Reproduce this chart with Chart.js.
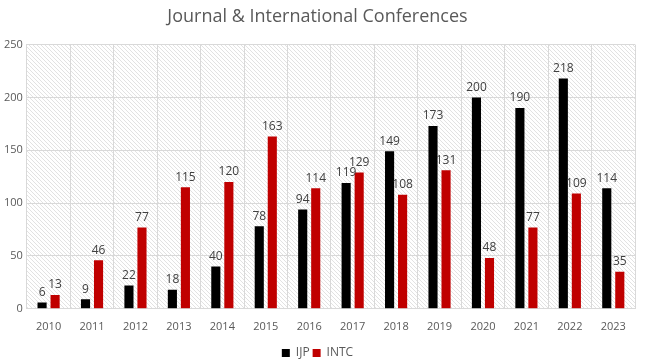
<!DOCTYPE html>
<html>
<head>
<meta charset="utf-8">
<script src="https://cdn.jsdelivr.net/npm/chart.js@4/dist/chart.umd.min.js"></script>
<style>
  html, body { margin: 0; padding: 0; background: #fff; }
</style>
</head>
<body>
<canvas id="grafico" width="646" height="362"></canvas>
<script>
const anos = ['2010', '2011', '2012', '2013', '2014', '2015', '2016', '2017', '2018', '2019', '2020', '2021', '2022', '2023'];
const ijp = [6, 9, 22, 18, 40, 78, 94, 119, 149, 173, 200, 190, 218, 114];
const intc = [13, 46, 77, 115, 120, 163, 114, 129, 108, 131, 48, 77, 109, 35];
const yTicks = [0, 50, 100, 150, 200, 250];

const FONTE = "'Open Sans', 'Liberation Sans', sans-serif";

// hachura diagonal do fundo
function criarHachura(ctx) {
    const c = document.createElement('canvas');
    c.width = 4; c.height = 4;
    const p = c.getContext('2d');
    p.strokeStyle = '#e2e2e2';
    p.lineWidth = 1;
    p.beginPath();
    p.moveTo(0, 0); p.lineTo(4, 4);
    p.moveTo(-1, 3); p.lineTo(1, 5);
    p.moveTo(3, -1); p.lineTo(5, 1);
    p.stroke();
    return ctx.createPattern(c, 'repeat');
}

const fundoHachurado = {
    id: 'fundoHachurado',
    beforeDraw(chart) {
        const { ctx, chartArea: a } = chart;
        ctx.save();
        ctx.fillStyle = criarHachura(ctx);
        ctx.fillRect(a.left, a.top, a.right - a.left, a.bottom - a.top);
        ctx.restore();
    }
};

const rotulos = {
    id: 'rotulos',
    afterDatasetsDraw(chart) {
        const ctx = chart.ctx;
        ctx.save();
        ctx.font = '12px ' + FONTE;
        ctx.fillStyle = '#404040';
        ctx.textAlign = 'center';
        ctx.textBaseline = 'bottom';
        chart.data.datasets.forEach((ds, i) => {
            chart.getDatasetMeta(i).data.forEach((bar, j) => {
                ctx.fillText(ds.data[j], bar.x, bar.y - 4);
            });
        });
        ctx.restore();
    }
};

new Chart(document.getElementById('grafico').getContext('2d'), {
    type: 'bar',
    data: {
        labels: anos,
        datasets: [{
            label: 'IJP',
            data: ijp,
            backgroundColor: '#000000',
            categoryPercentage: 0.6,
            barPercentage: 0.7
        }, {
            label: 'INTC',
            data: intc,
            backgroundColor: '#c00000',
            categoryPercentage: 0.6,
            barPercentage: 0.7
        }]
    },
    options: {
        responsive: false,
        animation: false,
        layout: { padding: { left: 0, right: 11, top: 6, bottom: -7 } },
        plugins: {
            title: {
                display: true,
                text: 'Journal & International Conferences',
                color: '#595959',
                font: { family: FONTE, size: 18, weight: 'normal' },
                padding: { top: 0, bottom: 17 }
            },
            legend: {
                position: 'bottom',
                labels: {
                    color: '#595959',
                    font: { family: FONTE, size: 12 },
                    boxWidth: 8,
                    boxHeight: 8,
                    padding: 3
                }
            },
            tooltip: { enabled: false }
        },
        scales: {
            x: {
                grid: { color: '#d9d9d9', offset: true, drawTicks: false },
                border: { color: '#d9d9d9' },
                ticks: { color: '#595959', font: { family: FONTE, size: 11 }, padding: 11, maxRotation: 0, autoSkip: false }
            },
            y: {
                min: 0,
                max: 250,
                afterBuildTicks(axis) {
                    axis.ticks = yTicks.map(v => ({ value: v }));
                },
                grid: { color: '#d9d9d9', drawTicks: false },
                border: { color: '#d9d9d9' },
                ticks: { color: '#595959', font: { family: FONTE, size: 11 }, padding: 4 }
            }
        }
    },
    plugins: [fundoHachurado, rotulos]
});
</script>
</body>
</html>
